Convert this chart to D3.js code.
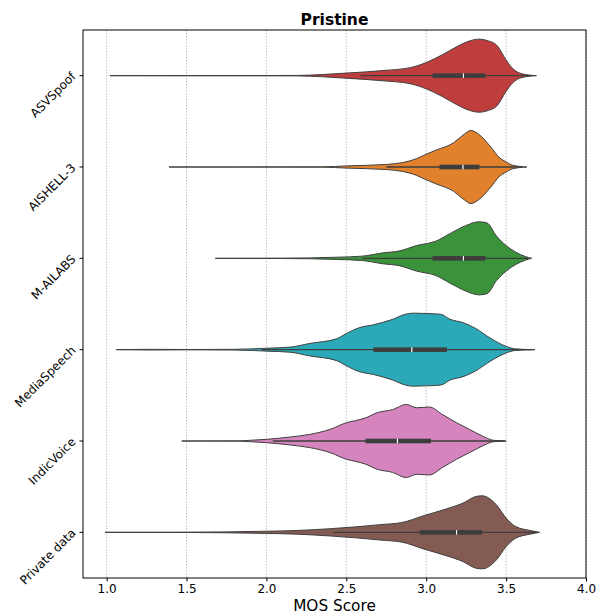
<!DOCTYPE html>
<html><head><meta charset="utf-8">
<script src="https://cdn.jsdelivr.net/npm/d3@7"></script>
<style>body{margin:0;background:#fff}svg{display:block;font-family:"DejaVu Sans",sans-serif}</style>
</head><body><svg id="c" width="598" height="614"></svg>
<script>
const categories = ["ASVSpoof","AISHELL-3","M-AILABS","MediaSpeech","IndicVoice","Private data"];
const colors = ["#c03d3e","#e1812c","#3a923a","#2ca9b8","#d684bd","#845b53"];
const xTicks = [1.0,1.5,2.0,2.5,3.0,3.5,4.0];
// density profiles: [score, relative density]
const dens_ASVSpoof = [[1.02,0],[1.5,0.003],[2.0,0.004],[2.19,0.006],[2.35,0.03],[2.5,0.07],[2.73,0.14],[2.9,0.22],[3.0,0.36],[3.1,0.57],[3.19,0.79],[3.27,0.95],[3.33,1.0],[3.39,0.95],[3.44,0.84],[3.5,0.43],[3.54,0.2],[3.6,0.05],[3.69,0]];
const dens_AISHELL = [[1.39,0],[1.8,0.002],[2.35,0.004],[2.5,0.03],[2.75,0.07],[2.85,0.12],[2.94,0.23],[3.0,0.35],[3.06,0.46],[3.17,0.66],[3.23,0.87],[3.28,1.0],[3.33,0.89],[3.4,0.57],[3.46,0.25],[3.5,0.14],[3.54,0.05],[3.63,0]];
const dens_MAILABS = [[1.68,0],[2.1,0.005],[2.44,0.03],[2.6,0.06],[2.73,0.15],[2.83,0.2],[2.94,0.35],[3.06,0.47],[3.15,0.68],[3.25,0.9],[3.33,1.0],[3.38,0.97],[3.44,0.61],[3.5,0.35],[3.56,0.17],[3.62,0.05],[3.66,0]];
const dens_MediaSpeech = [[1.06,0],[1.27,0.01],[1.5,0.004],[1.8,0.01],[1.9,0.02],[2.0,0.04],[2.15,0.07],[2.27,0.17],[2.44,0.3],[2.5,0.44],[2.58,0.6],[2.67,0.68],[2.79,0.83],[2.87,0.97],[2.92,1.0],[3.0,0.99],[3.09,0.97],[3.15,0.83],[3.23,0.74],[3.31,0.58],[3.4,0.32],[3.5,0.09],[3.56,0.02],[3.68,0]];
const dens_IndicVoice = [[1.47,0],[1.83,0.005],[1.9,0.02],[2.0,0.045],[2.15,0.11],[2.27,0.18],[2.4,0.32],[2.5,0.5],[2.56,0.56],[2.625,0.64],[2.69,0.77],[2.79,0.86],[2.875,1.0],[2.94,0.91],[3.02,0.93],[3.1,0.73],[3.19,0.5],[3.27,0.32],[3.35,0.14],[3.42,0.02],[3.5,0]];
const dens_Private = [[0.99,0],[1.5,0.004],[2.0,0.03],[2.19,0.05],[2.4,0.1],[2.56,0.15],[2.71,0.21],[2.85,0.27],[2.98,0.45],[3.125,0.64],[3.23,0.8],[3.31,0.98],[3.35,1.0],[3.44,0.75],[3.5,0.39],[3.56,0.16],[3.65,0.05],[3.71,0]];
const densities = [dens_ASVSpoof,dens_AISHELL,dens_MAILABS,dens_MediaSpeech,dens_IndicVoice,dens_Private];
// box stats: [lowerWhisker, q1, median, q3, upperWhisker]
const boxStats = [[2.59,3.04,3.233,3.37,3.66],[2.75,3.083,3.23,3.333,3.6],[2.6,3.04,3.233,3.37,3.64],[1.97,2.67,2.91,3.13,3.66],[2.04,2.62,2.82,3.03,3.49],[2.42,2.96,3.19,3.35,3.69]];

const svg = d3.select("#c");
const L=83,R=586,T=30,B=578;
const x = d3.scaleLinear().domain([0.852,4.0]).range([L,R]);
const y = d3.scaleBand().domain(categories).range([T,B]).padding(0);
const hw = y.bandwidth()*0.4;

// grid
svg.append("g").selectAll("line").data(xTicks).join("line")
  .attr("x1",d=>x(d)).attr("x2",d=>x(d)).attr("y1",T).attr("y2",B)
  .attr("stroke","#b0b0b0").attr("stroke-width",0.8).attr("stroke-dasharray","1.5,1.5");

categories.forEach((c,i)=>{
  const cy = y(c)+y.bandwidth()/2;
  const w = d3.scaleLinear().domain([0,1]).range([0,hw]);
  const area = d3.area().x(d=>x(d[0])).y0(d=>cy-w(d[1])).y1(d=>cy+w(d[1])).curve(d3.curveMonotoneX);
  svg.append("path").attr("d",area(densities[i])).attr("fill",colors[i])
    .attr("stroke","#3f3f3f").attr("stroke-width",1).attr("stroke-linejoin","round");
  const s = boxStats[i];
  svg.append("line").attr("x1",x(s[0])).attr("x2",x(s[4])).attr("y1",cy).attr("y2",cy)
    .attr("stroke","#3d3d3d").attr("stroke-width",1.3);
  svg.append("rect").attr("x",x(s[1])).attr("width",x(s[3])-x(s[1])).attr("y",cy-2.3).attr("height",4.6)
    .attr("fill","#3d3d3d");
  svg.append("line").attr("x1",x(s[2])).attr("x2",x(s[2])).attr("y1",cy-2.3).attr("y2",cy+2.3)
    .attr("stroke","#fff").attr("stroke-width",1.2);
});

// frame
svg.append("rect").attr("x",L).attr("y",T).attr("width",R-L).attr("height",B-T)
  .attr("fill","none").attr("stroke","#000").attr("stroke-width",1);

// x axis
const xa = svg.append("g").attr("transform",`translate(0,${B})`)
  .call(d3.axisBottom(x).tickValues(xTicks).tickFormat(d3.format(".1f")).tickSize(3.5).tickPadding(3));
xa.select(".domain").remove();
xa.selectAll("text").attr("font-size",12).attr("fill","#000").attr("font-family","DejaVu Sans");
xa.selectAll("line").attr("stroke","#000");

// y axis
const ya = svg.append("g").attr("transform",`translate(${L},0)`)
  .call(d3.axisLeft(y).tickSize(3.5).tickPadding(3));
ya.select(".domain").remove();
ya.selectAll("line").attr("stroke","#000");
ya.selectAll("text").attr("font-size",12).attr("fill","#000").attr("font-family","DejaVu Sans")
  .attr("text-anchor","end").attr("dy",0)
  .attr("transform","translate(-6.5,1.5) rotate(-45)").attr("x",0).attr("y",0);

svg.append("text").attr("x",(L+R)/2).attr("y",25).attr("text-anchor","middle")
  .attr("font-size",15.5).attr("font-weight","bold").text("Pristine");
svg.append("text").attr("x",(L+R)/2).attr("y",611).attr("text-anchor","middle")
  .attr("font-size",15.3).text("MOS Score");
</script></body></html>
